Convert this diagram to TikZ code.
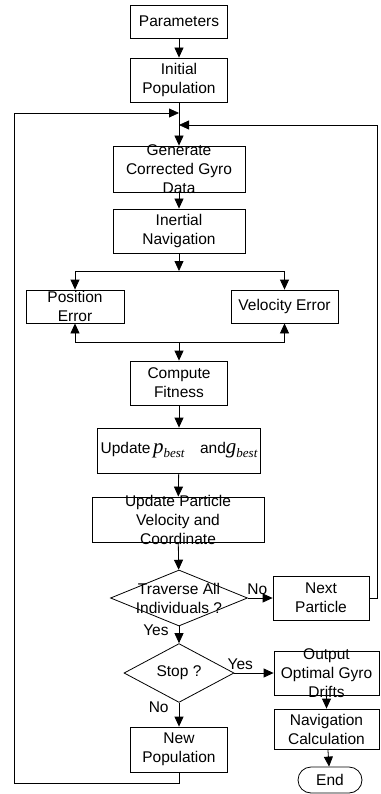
\documentclass[tikz,border=0pt]{standalone}
\usepackage{fontspec}
\setmainfont{Liberation Sans}
\newfontfamily\tfont{Liberation Serif}
\usetikzlibrary{arrows.meta,shapes.geometric}
\begin{document}
\begin{tikzpicture}[x=1pt,y=-1pt,font=\fontsize{15.5}{19}\selectfont,
  box/.style={draw,line width=0.8pt,inner sep=0pt,align=center},
  arr/.style={-{Triangle[length=10pt,width=9pt]},line width=0.8pt},
  ln/.style={line width=0.8pt},
  lab/.style={inner sep=0pt}]
\useasboundingbox (0,0) rectangle (380,794);
% boxes
\node[box,minimum width=97pt,minimum height=33pt] (param) at (179,21.5) {Parameters};
\node[box,minimum width=97pt,minimum height=44pt] (init) at (179,80) {Initial\\Population};
\node[box,minimum width=132pt,minimum height=46pt,label={[align=center,inner sep=0pt]center:Generate\\Corrected Gyro\\Data}] (gen) at (179,169) {};
\node[box,minimum width=132pt,minimum height=44pt] (inert) at (179,231) {Inertial\\Navigation};
\node[box,minimum width=98pt,minimum height=33pt,label={[align=center,inner sep=0pt]center:Position\\Error}] (pos) at (75,306.5) {};
\node[box,minimum width=107pt,minimum height=33pt] (vel) at (284.5,306.5) {Velocity Error};
\node[box,minimum width=97pt,minimum height=44pt] (fit) at (179,383) {Compute\\Fitness};
\node[box,minimum width=163pt,minimum height=45pt] (upd) at (179,450.5) {Update\,{\tfont\itshape\fontsize{21}{21}\selectfont p}\raisebox{-4pt}{\tfont\itshape\fontsize{13}{13}\selectfont best}\quad and{\tfont\itshape\fontsize{21}{21}\selectfont g}\raisebox{-4pt}{\tfont\itshape\fontsize{13}{13}\selectfont best}};
\node[box,minimum width=172pt,minimum height=45pt,label={[align=center,inner sep=0pt]center:Update Particle\\Velocity and\\Coordinate}] (upp) at (178,519.5) {};
\node[box,diamond,minimum width=137pt,minimum height=56pt,label={[align=center,inner sep=0pt]center:Traverse All\\Individuals ?}] (trav) at (179,598) {};
\node[box,minimum width=96pt,minimum height=44pt] (next) at (321,598) {Next\\Particle};
\node[box,diamond,minimum width=110pt,minimum height=46pt] (stop) at (179,673) {Stop ?};
\node[box,minimum width=105pt,minimum height=44pt,label={[align=center,inner sep=0pt]center:Output\\Optimal Gyro\\Drifts}] (out) at (326.5,673) {};
\node[box,minimum width=105pt,minimum height=40pt] (nav) at (326.5,729) {Navigation\\Calculation};
\node[box,rounded corners=13pt,minimum width=64pt,minimum height=26pt] (end) at (330,780) {End};
\node[box,minimum width=97pt,minimum height=45pt] (newp) at (179,749.5) {New\\Population};
% coordinates
\coordinate (j1) at (179,271);
\coordinate (j1l) at (75,271);
\coordinate (j1r) at (284.5,271);
\coordinate (j2) at (179,342);
\coordinate (j2l) at (75,342);
\coordinate (j2r) at (284.5,342);
\coordinate (mL) at (179,113);
\coordinate (mR) at (179,125);
\coordinate (bl) at (179,783);
\coordinate (bl2) at (14,783);
\coordinate (tl) at (14,113);
\coordinate (rr) at (377,598);
\coordinate (rt) at (377,125);
% connectors
\draw[arr] (param) -- (init);
\draw[arr] (init) -- (gen);
\draw[arr] (gen) -- (inert);
\draw[arr] (inert) -- (j1);
\draw[ln] (j1l) -- (j1r);
\draw[arr] (j1l) -- (pos);
\draw[arr] (j1r) -- (vel);
\draw[ln] (j2l) -- (j2r);
\draw[arr] (j2l) -- (pos);
\draw[arr] (j2r) -- (vel);
\draw[arr] (j2) -- (fit);
\draw[arr] (fit) -- (upd);
\draw[arr] (upd) -- (upp);
\draw[arr] (upp) -- (trav);
\draw[arr] (trav) -- node[lab,above,yshift=3pt,xshift=-3pt]{No} (next);
\draw[arr] (trav) -- node[lab,pos=0.2,left,xshift=-10pt]{Yes} (stop);
\draw[arr] (stop) -- node[lab,pos=0.15,above,yshift=3pt]{Yes} (out);
\draw[arr] (stop) -- node[lab,pos=0.2,left,xshift=-10pt]{No} (newp);
\draw[arr] (out) -- (nav);
\draw[arr] (nav) -- (end);
\draw[arr] (newp.south) -- (bl) -- (bl2) -- (tl) -- (mL);
\draw[arr] (next.east) -- (rr) -- (rt) -- (mR);
\end{tikzpicture}
\end{document}
